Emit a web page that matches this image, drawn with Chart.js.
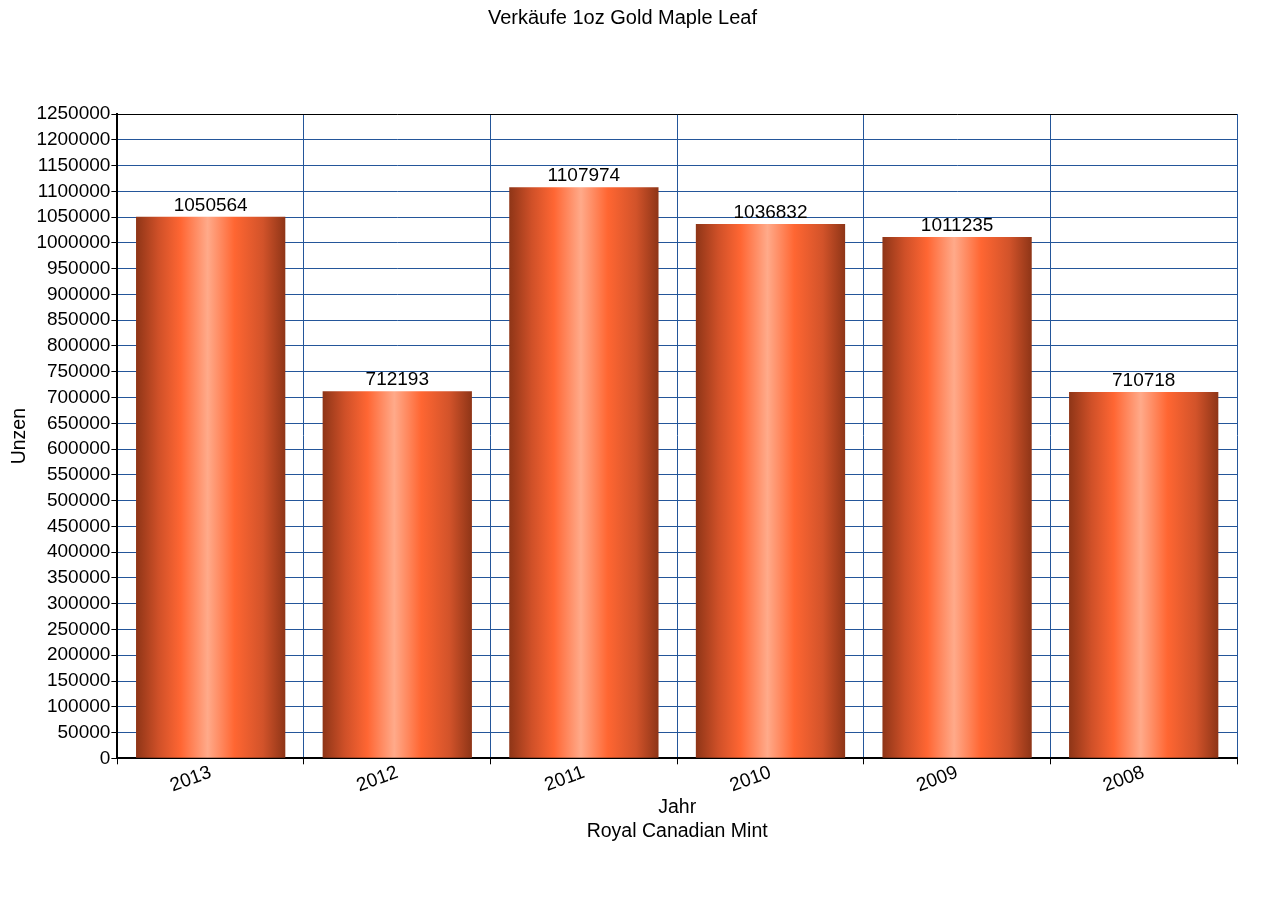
<!DOCTYPE html>
<html>
<head>
<meta charset="utf-8">
<script src="https://cdn.jsdelivr.net/npm/chart.js@4"></script>
<style>
html, body { margin: 0; padding: 0; background: #fff; }
#wrap { width: 1267px; height: 913px; }
</style>
</head>
<body>
<div id="wrap"><canvas id="chart"></canvas></div>
<script>
const years = ['2013', '2012', '2011', '2010', '2009', '2008'];
const sales = [1050564, 712193, 1107974, 1036832, 1011235, 710718];
const yMax = 1250000;
const yStep = 50000;

const FONT = '"Liberation Sans", Arial, sans-serif';
const gridBlue = '#24569a';

// horizontal "cylinder" shading for each bar
function barGradient(context) {
    const chart = context.chart;
    const x = chart.scales.x;
    if (!chart.chartArea || !x) return '#ff6633';
    const cx = x.getPixelForValue(context.dataIndex);
    const w = (x.width / years.length) * 0.8;
    const g = chart.ctx.createLinearGradient(cx - w / 2, 0, cx + w / 2, 0);
    g.addColorStop(0, '#8e3517');
    g.addColorStop(0.15, '#cf5028');
    g.addColorStop(0.3, '#ff6633');
    g.addColorStop(0.48, '#ffaa8a');
    g.addColorStop(0.66, '#ff6632');
    g.addColorStop(0.85, '#d2532a');
    g.addColorStop(1, '#8e3517');
    return g;
}

const valueLabels = {
    id: 'valueLabels',
    afterDatasetsDraw(chart) {
        const ctx = chart.ctx;
        const meta = chart.getDatasetMeta(0);
        ctx.save();
        ctx.font = '19px ' + FONT;
        ctx.fillStyle = '#000';
        ctx.textAlign = 'center';
        ctx.textBaseline = 'bottom';
        meta.data.forEach((bar, i) => {
            ctx.fillText(String(sales[i]), bar.x, bar.y - 2);
        });
        ctx.restore();
    }
};

new Chart(document.getElementById('chart'), {
    type: 'bar',
    data: {
        labels: years,
        datasets: [{
            label: 'Unzen',
            data: sales,
            backgroundColor: barGradient,
            borderWidth: 0,
            categoryPercentage: 1,
            barPercentage: 0.8
        }]
    },
    plugins: [valueLabels],
    options: {
        responsive: true,
        maintainAspectRatio: false,
        animation: false,
        layout: { padding: { left: 8, right: 30, top: 4, bottom: 70 } },
        plugins: {
            legend: { display: false },
            tooltip: { enabled: false },
            title: {
                display: true,
                text: 'Verkäufe 1oz Gold Maple Leaf',
                color: '#000',
                font: { family: FONT, size: 20, weight: 'normal' },
                padding: { top: 2, bottom: 84 }
            }
        },
        scales: {
            x: {
                grid: {
                    offset: true,
                    color: gridBlue,
                    lineWidth: 1,
                    drawTicks: true,
                    tickLength: 6,
                    tickColor: '#000'
                },
                border: { color: '#000', width: 2 },
                ticks: {
                    color: '#000',
                    font: { family: FONT, size: 19 },
                    minRotation: 20,
                    maxRotation: 20,
                    align: 'center',
                    padding: -3
                },
                title: {
                    display: true,
                    text: ['Jahr', 'Royal Canadian Mint'],
                    color: '#000',
                    font: { family: FONT, size: 19.5, lineHeight: 1.2 },
                    padding: { top: 2, bottom: 0 }
                }
            },
            y: {
                min: 0,
                max: yMax,
                grid: {
                    color: (c) => c.tick && c.tick.value === yMax ? '#000' : gridBlue,
                    lineWidth: 1,
                    tickLength: 6,
                    tickColor: '#000'
                },
                border: { color: '#000', width: 2 },
                ticks: {
                    stepSize: yStep,
                    color: '#000',
                    font: { family: FONT, size: 19 },
                    padding: 1,
                    autoSkip: false,
                    callback: (v) => String(v)
                },
                title: {
                    display: true,
                    text: 'Unzen',
                    color: '#000',
                    font: { family: FONT, size: 19.5 },
                    padding: { top: 0, bottom: 4 }
                }
            }
        }
    }
});
</script>
</body>
</html>
